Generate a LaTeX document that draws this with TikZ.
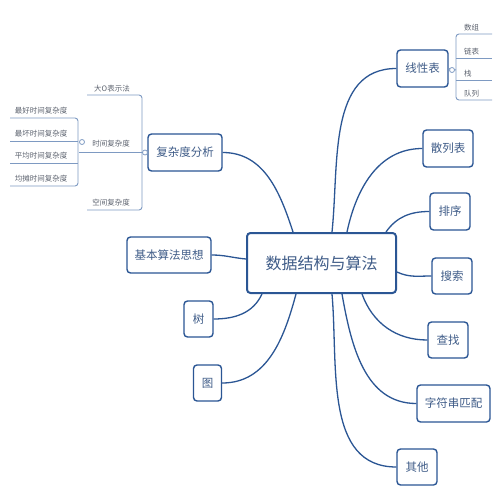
\documentclass[tikz,border=0pt]{standalone}
\usepackage{fontspec}
\newfontfamily\cjk{Noto Sans CJK SC}
\definecolor{edge}{HTML}{2B5694}
\definecolor{txt}{HTML}{3F5C88}
\definecolor{thin}{HTML}{7E9AC2}
\definecolor{small}{HTML}{5E6470}
\tikzset{
  topic/.style={draw=edge, line width=1.4pt, rounded corners=3.5pt, fill=white,
    inner sep=0pt, text=txt, font=\cjk\fontsize{11.5}{12}\selectfont, align=center},
  central/.style={topic, line width=2pt, font=\cjk\fontsize{16}{18}\selectfont},
  conn/.style={draw=edge, line width=1.3pt},
  brk/.style={draw=thin, line width=0.9pt},
  lbl/.style={inner sep=0pt, text=small, font=\cjk\fontsize{7.5}{8}\selectfont},
  knob/.style={circle, draw=thin, line width=0.8pt, fill=white, inner sep=0pt, minimum size=5pt}
}
\begin{document}
\begin{tikzpicture}[x=1pt,y=1pt]
\useasboundingbox[fill=white] (0,0) rectangle (500,-500);
% nodes
\node[central, minimum width=149pt, minimum height=60pt] (main) at (321.5,-263) {数据结构与算法};
\node[topic, minimum width=51pt, minimum height=37pt] (lin) at (422.5,-68.5) {线性表};
\node[topic, minimum width=50pt, minimum height=37pt] (hash) at (448,-148.5) {散列表};
\node[topic, minimum width=40pt, minimum height=37pt] (sort) at (450,-211.5) {排序};
\node[topic, minimum width=40pt, minimum height=36pt] (search) at (452,-276) {搜索};
\node[topic, minimum width=40pt, minimum height=36pt] (find) at (448,-340) {查找};
\node[topic, minimum width=73pt, minimum height=37pt] (str) at (453.5,-403.5) {字符串匹配};
\node[topic, minimum width=40pt, minimum height=36pt] (oth) at (417,-467) {其他};
\node[topic, minimum width=74pt, minimum height=37pt] (cplx) at (185,-152.5) {复杂度分析};
\node[topic, minimum width=84pt, minimum height=36pt] (basic) at (169,-255) {基本算法思想};
\node[topic, minimum width=29pt, minimum height=36pt] (tree) at (198.5,-319) {树};
\node[topic, minimum width=28pt, minimum height=36pt] (graph) at (207.5,-383) {图};
% connectors
\draw[conn] ([xshift=47pt]main.north west) to[out=108,in=0] (cplx.east);
\draw[conn] ([xshift=86pt]main.north west) to[out=84,in=180] (lin.west);
\draw[conn] ([xshift=101pt]main.north west) to[out=78,in=180] (hash.west);
\draw[conn] ([xshift=140pt]main.north west) to[out=55,in=180] (sort.west);
\draw[conn] ([yshift=-9pt]main.east) to[out=-25,in=180] (search.west);
\draw[conn] ([xshift=116pt]main.south west) to[out=-70,in=180] (find.west);
\draw[conn] ([xshift=96pt]main.south west) to[out=-80,in=180] (str.west);
\draw[conn] ([xshift=86pt]main.south west) to[out=-85,in=180] (oth.west);
\draw[conn] ([xshift=16pt]main.south west) to[out=-115,in=0] (tree.east);
\draw[conn] ([xshift=50pt]main.south west) to[out=-105,in=0] (graph.east);
\draw[conn] (basic.east) to[out=0,in=175] ([yshift=4pt]main.west);
% right bracket (线性表)
\coordinate (rb) at (456,-70);
\draw[brk] (lin.east) -- (rb);
\draw[brk, rounded corners=3pt] (492,-34) -- (456,-34) -- (456,-100) -- (492,-100);
\draw[brk] (456,-58) -- (492,-58);
\draw[brk] (456,-80) -- (492,-80);
\node[knob] (k1) at (452,-70) {};
\node[lbl, anchor=south west] (a1) at (464,-31) {数组};
\node[lbl, anchor=south west] (a2) at (464,-55) {链表};
\node[lbl, anchor=south west] (a3) at (464,-77) {栈};
\node[lbl, anchor=south west] (a4) at (464,-97) {队列};
% left bracket (复杂度分析)
\draw[brk] (cplx.west) -- (142,-152.5);
\draw[brk, rounded corners=3pt] (87,-95) -- (142,-95) -- (142,-210) -- (87,-210);
\draw[brk] (79,-152.5) -- (142,-152.5);
\node[knob] (k2) at (145,-152.5) {};
\node[lbl, anchor=south] (b1) at (112,-92) {大O表示法};
\node[lbl, anchor=south] (b2) at (111,-147) {时间复杂度};
\node[lbl, anchor=south] (b3) at (111,-206) {空间复杂度};
% sub bracket (时间复杂度)
\draw[brk, rounded corners=3pt] (10,-118) -- (78,-118) -- (78,-186) -- (10,-186);
\draw[brk] (10,-141) -- (78,-141);
\draw[brk] (10,-163) -- (78,-163);
\node[knob] (k3) at (82,-142) {};
\node[lbl, anchor=south] (c1) at (41,-114) {最好时间复杂度};
\node[lbl, anchor=south] (c2) at (41,-137) {最坏时间复杂度};
\node[lbl, anchor=south] (c3) at (41,-159) {平均时间复杂度};
\node[lbl, anchor=south] (c4) at (41,-182) {均摊时间复杂度};
\end{tikzpicture}
\end{document}
